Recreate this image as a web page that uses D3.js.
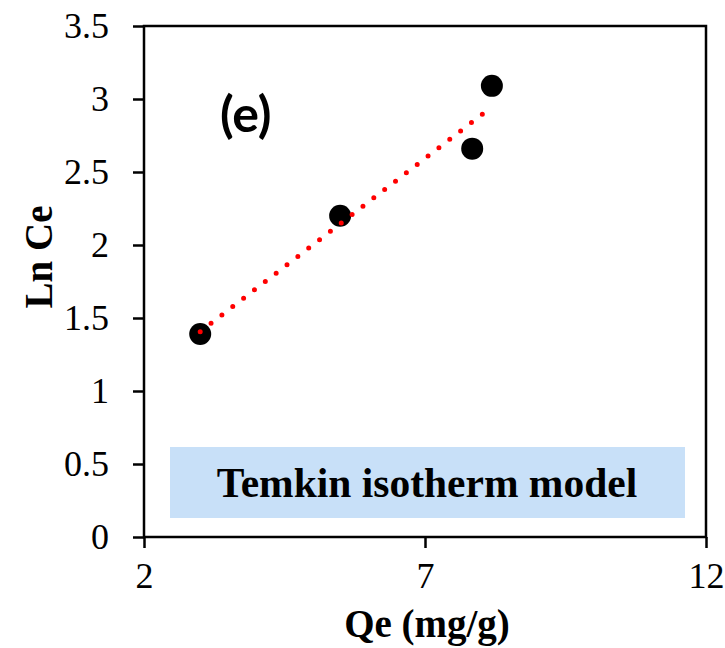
<!DOCTYPE html>
<html>
<head>
<meta charset="utf-8">
<script src="https://cdn.jsdelivr.net/npm/d3@7/dist/d3.min.js"></script>
<style>
  html, body { margin: 0; padding: 0; background: #fff; }
  svg { display: block; }
</style>
</head>
<body>
<svg id="chart" width="725" height="648"></svg>
<script>
// Temkin isotherm: Qe (mg/g) against ln Ce
const qe = [3.0, 5.49, 7.84, 8.19];
const lnCe = [1.39, 2.20, 2.66, 3.09];
const xTicks = [2, 7, 12];
const yTicks = [0, 0.5, 1, 1.5, 2, 2.5, 3, 3.5];
const panelTag = "(e)";
const modelName = "Temkin isotherm model";
const xTitle = "Qe (mg/g)";
const yTitle = "Ln Ce";

const svg = d3.select("#chart");
const plotL = 144, plotR = 706, plotT = 26, plotB = 537;

const x = d3.scaleLinear().domain([2, 12]).range([plotL, plotR]);
const y = d3.scaleLinear().domain([0, 3.5]).range([plotB, plotT]);

const serif = "'Liberation Serif', 'Times New Roman', serif";

// plot frame
svg.append("rect")
  .attr("x", plotL).attr("y", plotT)
  .attr("width", plotR - plotL).attr("height", plotB - plotT)
  .attr("fill", "none").attr("stroke", "#000").attr("stroke-width", 2.5);

// axes
const xAxis = d3.axisBottom(x).tickValues(xTicks).tickSize(11).tickPadding(14)
  .tickFormat(d3.format("d"));
const gx = svg.append("g").attr("transform", `translate(0,${plotB})`).call(xAxis);
gx.select(".domain").remove();
gx.selectAll(".tick line").attr("stroke", "#000").attr("stroke-width", 2.5);
gx.selectAll(".tick text").attr("font-family", serif).attr("font-size", 36).attr("fill", "#000");

const yAxis = d3.axisLeft(y).tickValues(yTicks).tickSize(11).tickPadding(24)
  .tickFormat(d => String(d));
const gy = svg.append("g").attr("transform", `translate(${plotL},0)`).call(yAxis);
gy.select(".domain").remove();
gy.selectAll(".tick line").attr("stroke", "#000").attr("stroke-width", 2.5);
gy.selectAll(".tick text").attr("font-family", serif).attr("font-size", 36).attr("fill", "#000");

// axis titles
svg.append("text")
  .attr("x", (plotL + plotR) / 2 + 2).attr("y", 637)
  .attr("text-anchor", "middle")
  .attr("font-family", serif).attr("font-weight", "bold").attr("font-size", 39)
  .text(xTitle);

svg.append("text")
  .attr("transform", "translate(52,257) rotate(-90)")
  .attr("text-anchor", "middle")
  .attr("font-family", serif).attr("font-weight", "bold").attr("font-size", 39)
  .text(yTitle);

// least-squares trend line
const mx = d3.mean(qe), my = d3.mean(lnCe);
let sxy = 0, sxx = 0;
qe.forEach((v, i) => { sxy += (v - mx) * (lnCe[i] - my); sxx += (v - mx) * (v - mx); });
const slope = sxy / sxx, intercept = my - slope * mx;
const [x0, x1] = d3.extent(qe);

// data markers
svg.append("g").selectAll("circle")
  .data(qe.map((v, i) => [v, lnCe[i]]))
  .join("circle")
  .attr("cx", d => x(d[0])).attr("cy", d => y(d[1]))
  .attr("r", 11).attr("fill", "#000");

svg.append("line")
  .attr("x1", x(x0)).attr("y1", y(slope * x0 + intercept))
  .attr("x2", x(x1)).attr("y2", y(slope * x1 + intercept))
  .attr("stroke", "#ff0000").attr("stroke-width", 5)
  .attr("stroke-linecap", "round").attr("stroke-dasharray", "0 13.7");

// panel tag
svg.append("text")
  .attr("x", 220).attr("y", 132)
  .attr("font-family", "Lato, 'Open Sans', sans-serif").attr("font-weight", "bold").attr("font-size", 50)
  .text(panelTag);

// model caption box
svg.append("rect")
  .attr("x", 170).attr("y", 447).attr("width", 515).attr("height", 71)
  .attr("fill", "#c8e0f8");
svg.append("text")
  .attr("x", 427).attr("y", 497)
  .attr("text-anchor", "middle")
  .attr("font-family", serif).attr("font-weight", "bold").attr("font-size", 41.5)
  .text(modelName);
</script>
</body>
</html>
